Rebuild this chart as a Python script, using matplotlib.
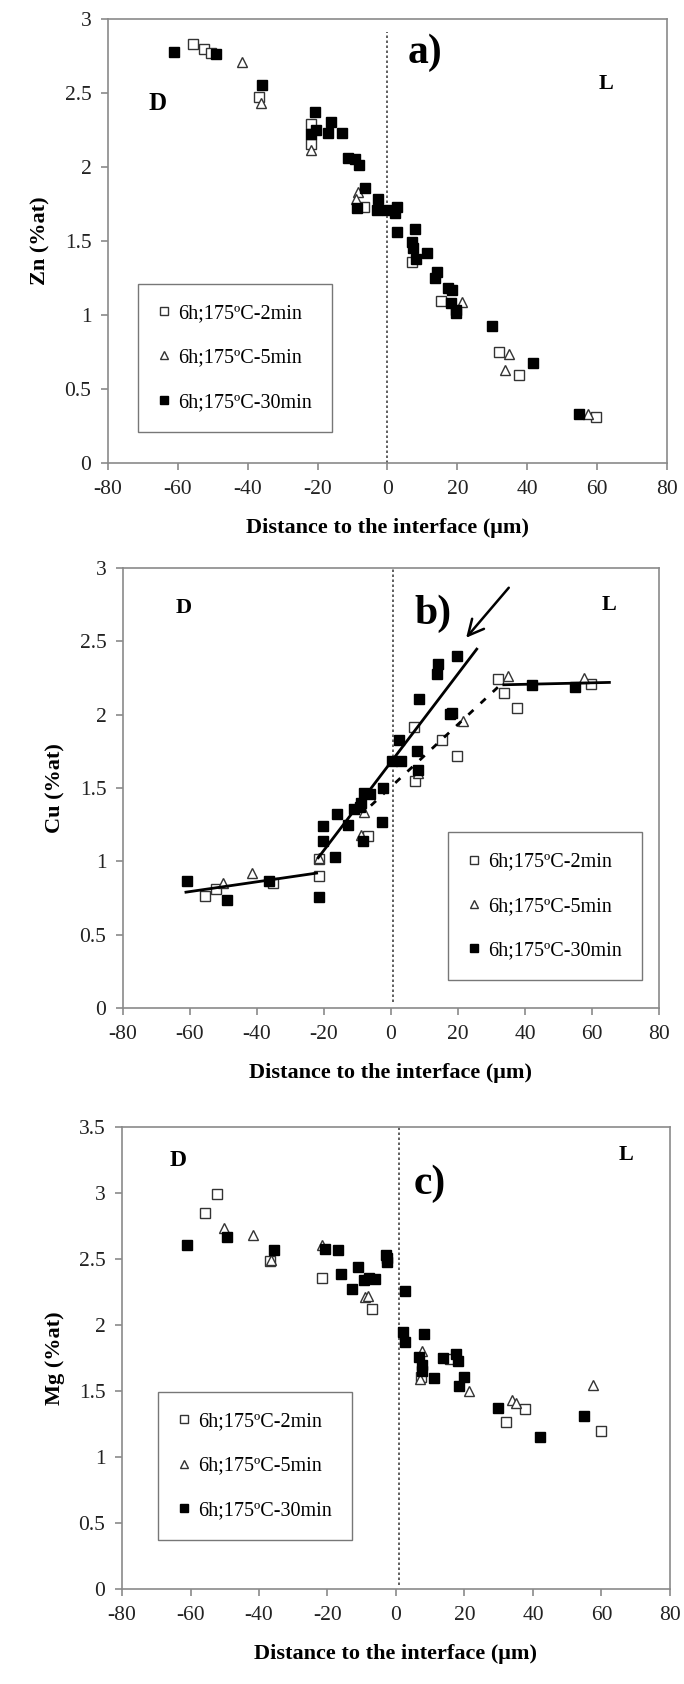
import numpy as np
import matplotlib
matplotlib.use('Agg')
import matplotlib.pyplot as plt

plt.rcParams['font.family'] = ['Liberation Serif', 'DejaVu Serif']
plt.rcParams['mathtext.fontset'] = 'stix'
plt.rcParams['axes.unicode_minus'] = False

# legend labels
labels = ['6h;175ºC-2min', '6h;175ºC-5min', '6h;175ºC-30min']

# ---- panel a) Zn ----
zn_2_x = [-55.8, -52.6, -50.4, -36.8, -21.8, -21.8, -6.7, 7.1, 15.2, 32.0, 37.6, 59.7]
zn_2_y = [2.83, 2.795, 2.77, 2.47, 2.29, 2.155, 1.73, 1.36, 1.095, 0.752, 0.595, 0.31]
zn_5_x = [-41.6, -36.2, -21.8, -8.4, -9.0, 21.3, 34.9, 33.7, 57.5]
zn_5_y = [2.71, 2.43, 2.115, 1.83, 1.78, 1.09, 0.736, 0.628, 0.33]
zn_30_x = [-61.2, -49.2, -35.8, -20.8, -20.5, -21.8, -16.3, -16.9, -13.0, -11.3, -9.2, -8.1,
           -6.4, -8.6, -2.6, -3.1, 0.0, 2.6, 2.1, 2.8, 7.8, 6.9, 7.4, 11.2, 8.2, 14.1, 13.6,
           17.4, 18.6, 18.1, 19.6, 19.6, 30.0, 41.8, 54.8]
zn_30_y = [2.775, 2.76, 2.55, 2.37, 2.25, 2.22, 2.30, 2.23, 2.23, 2.06, 2.05, 2.01,
           1.86, 1.72, 1.78, 1.71, 1.71, 1.73, 1.69, 1.56, 1.58, 1.49, 1.455, 1.42, 1.38, 1.29, 1.25,
           1.185, 1.165, 1.083, 1.03, 1.01, 0.925, 0.674, 0.329]

# ---- panel b) Cu ----
cu_2_x = [-55.5, -52.2, -35.3, -21.4, -21.6, -7.0, 7.0, 15.2, 19.6, 7.2, 32.0, 33.7, 37.5, 59.6]
cu_2_y = [0.764, 0.81, 0.85, 0.898, 1.014, 1.17, 1.918, 1.83, 1.72, 1.55, 2.245, 2.145, 2.043, 2.21]
cu_5_x = [-50.0, -41.4, -21.6, -8.0, -8.8, 8.0, 21.4, 35.0, 57.6]
cu_5_y = [0.855, 0.923, 1.02, 1.335, 1.177, 1.60, 1.96, 2.267, 2.25]
cu_30_x = [-60.8, -49.0, -36.3, -21.5, -20.4, -20.2, -16.7, -16.0, -12.7, -11.0, -9.3, -8.8,
           -8.0, -6.3, -8.3, -2.3, -2.8, 0.2, 3.0, 2.5, 7.7, 8.1, 8.3, 13.8, 14.1, 19.8,
           17.6, 18.1, 42.0, 54.9]
cu_30_y = [0.864, 0.74, 0.866, 0.755, 1.24, 1.14, 1.03, 1.32, 1.25, 1.36, 1.37, 1.397,
           1.467, 1.456, 1.138, 1.50, 1.27, 1.687, 1.687, 1.83, 1.755, 1.624, 2.107, 2.28, 2.345, 2.40,
           2.005, 2.01, 2.20, 2.19]
# trend segments (x0, y0, x1, y1, style)
cu_lines = [(-61.2, 0.79, -22.2, 0.92, '-'),
            (-21.7, 1.025, 25.6, 2.447, '-'),
            (-6.0, 1.38, 32.5, 2.20, '--'),
            (33.7, 2.204, 65.2, 2.22, '-')]

# ---- panel c) Mg ----
mg_2_x = [-55.7, -52.3, -36.7, -21.7, -6.9, 7.2, 15.8, 32.1, 37.8, 60.0]
mg_2_y = [2.846, 2.99, 2.485, 2.36, 2.12, 1.61, 1.74, 1.263, 1.364, 1.20]
mg_5_x = [-50.3, -41.7, -36.4, -21.7, -9.1, -8.1, 7.5, 7.1, 21.2, 33.9, 35.0, 57.6]
mg_5_y = [2.737, 2.68, 2.49, 2.606, 2.215, 2.22, 1.80, 1.59, 1.50, 1.43, 1.41, 1.545]
mg_30_x = [-61.1, -49.3, -35.7, -20.6, -16.9, -16.1, -11.2, -12.9, -9.3, -7.8, -6.1, -3.0,
           -2.6, -2.7, 2.6, 2.1, 2.6, 8.2, 6.8, 7.5, 7.5, 11.2, 13.7, 17.5, 18.2, 19.8, 18.5,
           29.9, 42.0, 55.0]
mg_30_y = [2.606, 2.67, 2.566, 2.576, 2.568, 2.39, 2.44, 2.27, 2.34, 2.36, 2.35, 2.53,
           2.51, 2.48, 2.26, 1.945, 1.87, 1.93, 1.755, 1.70, 1.65, 1.60, 1.75, 1.78, 1.73, 1.61, 1.54,
           1.375, 1.155, 1.31]

fig = plt.figure(figsize=(6.84, 16.84), dpi=100)

spine_c = '#8a8a8a'


def setup(ax, ymax, ylabel):
    ax.set_xlim(-80, 80)
    ax.set_ylim(0, ymax)
    ax.set_xticks(np.arange(-80, 81, 20))
    ax.set_yticks(np.arange(0, ymax + 0.01, 0.5))
    ax.set_yticklabels(['%g' % v for v in np.arange(0, ymax + 0.01, 0.5)])
    for s in ax.spines.values():
        s.set_color(spine_c)
        s.set_linewidth(1.2)
    ax.tick_params(direction='out', length=5, width=1.2, color=spine_c,
                   labelsize=15.5, labelcolor='#222222', pad=7)
    ax.set_ylabel(ylabel, fontsize=16, fontweight='bold', labelpad=10)
    ax.set_xlabel('Distance to the interface (μm)', fontsize=16, fontweight='bold', labelpad=14)


def draw(ax, d2, d5, d30):
    h1, = ax.plot(d2[0], d2[1], 's', ms=6.5, mfc='white', mec='#333333', mew=1.0, ls='none')
    h2, = ax.plot(d5[0], d5[1], '^', ms=6.5, mfc='white', mec='#333333', mew=1.0, ls='none')
    h3, = ax.plot(d30[0], d30[1], 's', ms=7, mfc='black', mec='black', ls='none')
    return [h1, h2, h3]


def legend(ax, handles, anchor):
    lg = ax.legend(handles, labels, loc='lower left', bbox_to_anchor=anchor,
                   fontsize=14.5, frameon=True, fancybox=False, edgecolor='#555555',
                   labelspacing=1.25, handlelength=0.6, handletextpad=0.4,
                   borderpad=1.0, markerscale=0.8, borderaxespad=0)
    lg.get_frame().set_linewidth(1.0)


# panel a
ax = fig.add_axes([0.158, 0.7251, 0.817, 0.2637])
setup(ax, 3, 'Zn (%at)')
ax.plot([0, 0], [0, 2.91], ls=(0, (1.5, 1.5)), color='#444444', lw=1.2)
hs = draw(ax, (zn_2_x, zn_2_y), (zn_5_x, zn_5_y), (zn_30_x, zn_30_y))
legend(ax, hs, (0.054, 0.07))
ax.text(-65.8, 2.43, 'D', fontsize=18, fontweight='bold', ha='center', va='center')
ax.text(10.7, 2.77, 'a)', fontsize=30, fontweight='bold', ha='center', va='center')
ax.text(62.6, 2.56, 'L', fontsize=16, fontweight='bold', ha='center', va='center')

# panel b
ax = fig.add_axes([0.1798, 0.4014, 0.7836, 0.2613])
setup(ax, 3, 'Cu (%at)')
ax.plot([0.7, 0.7], [0.04, 3], ls=(0, (1.5, 1.5)), color='#444444', lw=1.2)
hs = draw(ax, (cu_2_x, cu_2_y), (cu_5_x, cu_5_y), (cu_30_x, cu_30_y))
for x0, y0, x1, y1, st in cu_lines:
    if st == '--':
        ax.plot([x0, x1], [y0, y1], color='black', lw=2.0, ls=(0, (2.5, 3.5)))
    else:
        ax.plot([x0, x1], [y0, y1], color='black', lw=2.0)
ax.annotate('', xy=(21.9, 2.51), xytext=(35.7, 2.88),
            arrowprops=dict(arrowstyle='->', lw=1.8, color='black', mutation_scale=28))
legend(ax, hs, (0.606, 0.063))
ax.text(-61.9, 2.73, 'D', fontsize=16, fontweight='bold', ha='center', va='center')
ax.text(12.6, 2.685, 'b)', fontsize=30, fontweight='bold', ha='center', va='center')
ax.text(65.2, 2.75, 'L', fontsize=16, fontweight='bold', ha='center', va='center')

# panel c
ax = fig.add_axes([0.1784, 0.0564, 0.801, 0.2743])
setup(ax, 3.5, 'Mg (%at)')
ax.plot([0.8, 0.8], [0.03, 3.5], ls=(0, (1.5, 1.5)), color='#444444', lw=1.2)
hs = draw(ax, (mg_2_x, mg_2_y), (mg_5_x, mg_5_y), (mg_30_x, mg_30_y))
legend(ax, hs, (0.066, 0.106))
ax.text(-63.6, 3.25, 'D', fontsize=17, fontweight='bold', ha='center', va='center')
ax.text(9.9, 3.07, 'c)', fontsize=30, fontweight='bold', ha='center', va='center')
ax.text(67.2, 3.29, 'L', fontsize=16, fontweight='bold', ha='center', va='center')

fig.savefig('out.png', dpi=100)
